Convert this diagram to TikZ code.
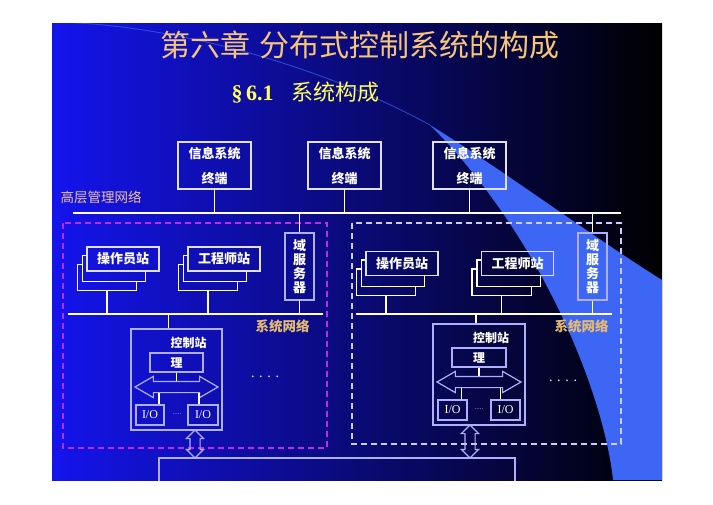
\documentclass[tikz,border=0pt]{standalone}
\usepackage{fontspec}
\setmainfont{Liberation Serif}
\newfontfamily\cjk{Noto Sans CJK SC}
\usetikzlibrary{shapes.arrows,calc}

\definecolor{slideblue}{RGB}{20,20,238}
\definecolor{slidemid}{RGB}{8,8,150}
\definecolor{swoosh}{RGB}{62,102,245}
\definecolor{titlegold}{RGB}{245,198,120}
\definecolor{subyellow}{RGB}{255,255,90}
\definecolor{netpeach}{RGB}{240,195,160}
\definecolor{netgold}{RGB}{228,186,112}
\definecolor{boxwhite}{RGB}{225,225,255}
\definecolor{frameline}{RGB}{175,175,255}
\definecolor{groupmag}{RGB}{195,40,235}
\definecolor{grouplav}{RGB}{205,205,255}

\begin{document}
\begin{tikzpicture}[x=1pt,y=-1pt,
  unitbox/.style={draw=#1,line width=1.2pt,text=white,inner sep=0pt,font=\cjk\bfseries\fontsize{13}{14}\selectfont},
  unitbox/.default=boxwhite,
  stationbox/.style={unitbox,minimum width=72pt,minimum height=24pt},
  wire/.style={draw=white,line width=1.2pt},
  zone/.style={draw=#1,line width=1.4pt,dash pattern=on 6pt off 4pt},
  netname/.style={anchor=west,text=netgold,font=\cjk\bfseries\fontsize{13.5}{14}\selectfont},
  busarrow/.style={double arrow,draw=frameline,line width=1.2pt,inner xsep=0pt,inner ysep=5pt,
    double arrow head extend=5pt,double arrow tip angle=60},
  linkarrow/.style={double arrow,rotate=90,draw=frameline,line width=1.2pt,inner xsep=0pt,inner ysep=4.5pt,
    double arrow head extend=3.5pt,double arrow tip angle=90},
  iobox/.style={unitbox=frameline,minimum height=20pt,font=\fontsize{12}{12}\selectfont}]
\useasboundingbox (0,0) rectangle (713,504);
\fill[white] (0,0) rectangle (713,504);

% slide background
\begin{scope}
\clip (52,23) rectangle (662,480);
\shade[left color=slideblue,middle color=slidemid,right color=black] (52,23) rectangle (662,480);
\fill[swoosh] (430,125) .. controls (500,168) and (590,235) .. (662,280) -- (662,480) -- (613,480) .. controls (605,400) and (545,240) .. (430,125) -- cycle;
\draw[swoosh,opacity=.6,line width=1pt] (52,22) .. controls (180,24) and (330,70) .. (430,125);

\node[text=titlegold,font=\cjk\fontsize{30}{30}\selectfont] (title) at (360,45) {第六章\hspace{10pt}分布式控制系统的构成};
\node[anchor=west,text=subyellow,font=\fontsize{22}{22}\selectfont] (subtitle) at (228,93) {\textbf{\S\,6.1}\hspace{18pt}{\cjk 系统构成}};

% high level network
\coordinate (hbusL) at (73,213); \coordinate (hbusR) at (621,213);
\draw[wire] (hbusL) -- (hbusR);
\node[anchor=west,text=netpeach,font=\cjk\fontsize{13.5}{14}\selectfont] (hnet) at (57,197) {高层管理网络};
\node[unitbox,minimum width=73pt,minimum height=47pt,align=center,font=\cjk\bfseries\fontsize{13}{25}\selectfont] (info1) at (214.5,165.5) {信息系统\\终端};
\node[unitbox,minimum width=73pt,minimum height=47pt,align=center,font=\cjk\bfseries\fontsize{13}{25}\selectfont] (info2) at (344.5,165.5) {信息系统\\终端};
\node[unitbox,minimum width=73pt,minimum height=47pt,align=center,font=\cjk\bfseries\fontsize{13}{25}\selectfont] (info3) at (469.5,165.5) {信息系统\\终端};
\draw[wire] (info1.south) -- (info1.south |- hbusL);
\draw[wire] (info2.south) -- (info2.south |- hbusL);
\draw[wire] (info3.south) -- (info3.south |- hbusL);

% left domain
\draw[zone=groupmag] (63,223) rectangle (327,448);
\node[stationbox] (opL) at (123,259) {操作员站};
\node[stationbox] (engL) at (224,259) {工程师站};
\node[unitbox=frameline,minimum width=29pt,minimum height=67pt,align=center,font=\cjk\bfseries\fontsize{13}{14}\selectfont] (srvL) at (299.5,266.5) {域\\服\\务\\器};
\coordinate (sbusL) at (68,314); \coordinate (sbusLe) at (323,314);
\draw[wire] (sbusL) -- (sbusLe);
\node[netname] (snetL) at (252,326) {系统网络};
\node[unitbox=frameline,minimum width=91pt,minimum height=101pt] (ctlL) at (176.5,379.5) {};
\node[text=white,font=\cjk\bfseries\fontsize{12}{12}\selectfont] (ctlLname) at (188.5,343) {控制站};
\node[unitbox=frameline,minimum width=53pt,minimum height=19pt,font=\cjk\bfseries\fontsize{12}{12}\selectfont] (cpuL) at (176.5,362.5) {理};
\node[busarrow,minimum height=83pt] (busL) at (176.5,387) {};
\node[iobox,minimum width=28pt] (ioL1) at (150,415) {I/O};
\node[iobox,minimum width=30pt] (ioL2) at (203,415) {I/O};
\node[text=frameline,font=\fontsize{7}{7}\selectfont] (ioLgap) at (177,414) {.....};
\node[text=white,font=\fontsize{14}{14}\selectfont] (moreL) at (265,377) {.\,\,.\,\,.\,\,.};
\node[linkarrow,minimum height=28pt] (linkL) at (195,444) {};
\coordinate (ctlLtop) at ($(ctlL.north)+(-8,0)$);
\draw[wire] (srvL.north) -- (srvL.north |- hbusL);
\draw[wire] (srvL.south) -- (srvL.south |- sbusL);
\draw[wire] (ctlLtop) -- (ctlLtop |- sbusL);
\draw[wire] (cpuL.south) -- (busL.north);
\draw[wire] ([xshift=9pt]ioL1.north) -- ([xshift=9pt]ioL1.north |- busL.south);
\draw[wire] ([xshift=-4pt]ioL2.north) -- ([xshift=-4pt]ioL2.north |- busL.south);

% right domain
\draw[zone=grouplav] (352,223) rectangle (621,444);
\node[stationbox] (opR) at (402,263.5) {操作员站};
\node[stationbox] (engR) at (517.5,263.5) {工程师站};
\node[unitbox=frameline,minimum width=29pt,minimum height=67pt,align=center,font=\cjk\bfseries\fontsize{13}{14}\selectfont] (srvR) at (592.5,266.5) {域\\服\\务\\器};
\coordinate (sbusR) at (356,314); \coordinate (sbusRe) at (612,314);
\draw[wire] (sbusR) -- (sbusRe);
\node[netname] (snetR) at (551,326) {系统网络};
\node[unitbox=frameline,minimum width=92pt,minimum height=101pt] (ctlR) at (479,374.5) {};
\node[text=white,font=\cjk\bfseries\fontsize{12}{12}\selectfont] (ctlRname) at (491,338) {控制站};
\node[unitbox=frameline,minimum width=54pt,minimum height=19pt,font=\cjk\bfseries\fontsize{12}{12}\selectfont] (cpuR) at (479,357.5) {理};
\node[busarrow,minimum height=84pt] (busR) at (479,382) {};
\node[iobox,minimum width=29pt] (ioR1) at (452.5,410) {I/O};
\node[iobox,minimum width=29pt] (ioR2) at (505.5,410) {I/O};
\node[text=frameline,font=\fontsize{7}{7}\selectfont] (ioRgap) at (479,409) {.....};
\node[text=white,font=\fontsize{14}{14}\selectfont] (moreR) at (563,381) {.\,\,.\,\,.\,\,.};
\node[linkarrow,minimum height=33pt] (linkR) at (470,441.5) {};
\coordinate (ctlRtop) at ($(ctlR.north)+(-3,0)$);
\draw[wire] (srvR.north) -- (srvR.north |- hbusL);
\draw[wire] (srvR.south) -- (srvR.south |- sbusR);
\draw[wire] (ctlRtop) -- (ctlRtop |- sbusR);
\draw[wire] (cpuR.south) -- (busR.north);
\draw[wire] ([xshift=9pt]ioR1.north) -- ([xshift=9pt]ioR1.north |- busR.south);
\draw[wire] ([xshift=-5pt]ioR2.north) -- ([xshift=-5pt]ioR2.north |- busR.south);

% stacked station cards
\foreach \s in {opL,engL,opR,engR}{
  \draw[wire] ($(\s.north west)+(0,9)$) -- ++(-4,0) |- ($(\s.south east)+(-14,10)$) -- ++(0,-10);
  \draw[wire] ($(\s.north west)+(-4,18)$) -- ++(-5,0) |- ($(\s.south east)+(-23,19)$) -- ++(0,-9);
  \coordinate (\s-base) at ($(\s.south)+(-16,19)$);
  \draw[wire] (\s-base) -- (\s-base |- sbusL);
}

% field level
\node[draw=frameline,line width=1.2pt,minimum width=356pt,minimum height=40pt,inner sep=0pt] (field) at (337,478) {};
\end{scope}
\end{tikzpicture}
\end{document}
